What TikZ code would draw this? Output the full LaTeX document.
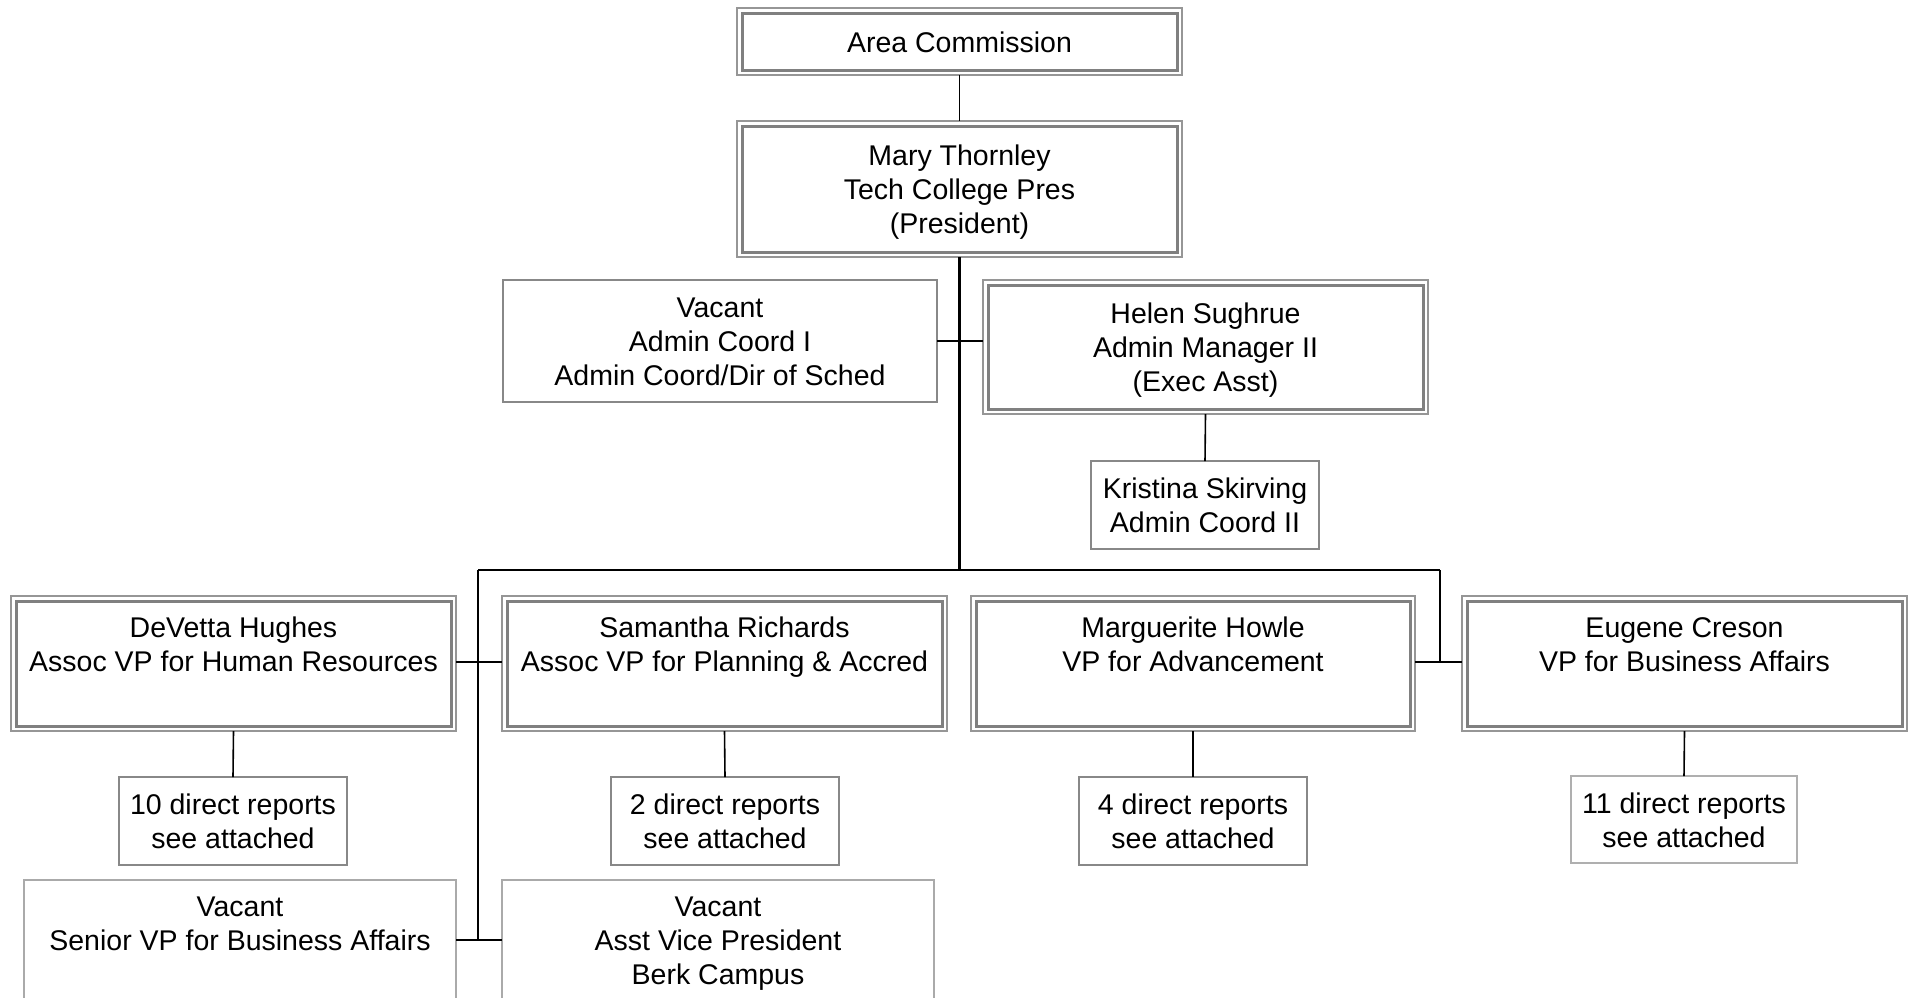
\documentclass[tikz,border=0pt]{standalone}
\usepackage{fontspec}
\setmainfont{Liberation Sans}
\newcommand{\toprule}{\rule{0pt}{31.5pt}}
\newcommand{\vprule}{\rule{0pt}{26.5pt}}
\begin{document}
\begin{tikzpicture}[x=1pt,y=-1pt,
  txt/.style={align=center, inner sep=0pt, outer sep=0pt,
    font=\fontsize{28.5}{34}\selectfont},
  sbox/.style={txt, draw={rgb,255:red,136;green,136;blue,136}, line width=1.8pt},
  dbox/.style={txt, draw={rgb,255:red,150;green,150;blue,150}, line width=1.3pt},
  innerline/.style={draw={rgb,255:red,128;green,128;blue,128}, line width=3pt},
  conn/.style={draw=black, line width=1.6pt},
  trunk/.style={draw=black, line width=2.6pt}]
\fill[white] (0,0) rectangle (1911,997);
\clip (0,0) rectangle (1911,997);

% top
\node[dbox, minimum width=445pt, minimum height=67pt] (area) at (959.5,41.5) {\toprule Area Commission\strut};
\node[dbox, minimum width=445pt, minimum height=136pt] (mary) at (959.5,189) {\toprule Mary Thornley\\Tech College Pres\\(President)\strut};
\node[sbox, minimum width=434pt, minimum height=122pt] (vacA) at (720,341) {\toprule Vacant\\Admin Coord I\\Admin Coord/Dir of Sched\strut};
\node[dbox, minimum width=445pt, minimum height=134pt] (helen) at (1205.5,347) {\toprule Helen Sughrue\\Admin Manager II\\(Exec Asst)\strut};
\node[sbox, minimum width=228pt, minimum height=88pt] (kris) at (1205,505) {\toprule Kristina Skirving\\Admin Coord II\strut};

% VP row
\node[dbox, minimum width=445pt, minimum height=135pt] (dev) at (233.5,663.5) {\vprule DeVetta Hughes\\Assoc VP for Human Resources\\\strut};
\node[dbox, minimum width=445pt, minimum height=135pt] (sam) at (724.5,663.5) {\vprule Samantha Richards\\Assoc VP for Planning \& Accred\\\strut};
\node[dbox, minimum width=444pt, minimum height=135pt] (mar) at (1193,663.5) {\vprule Marguerite Howle\\VP for Advancement\\\strut};
\node[dbox, minimum width=445pt, minimum height=135pt] (eug) at (1684.5,663.5) {\vprule Eugene Creson\\VP for Business Affairs\\\strut};

% direct reports
\node[sbox, minimum width=228pt, minimum height=88pt] (r10) at (233,821) {\toprule 10 direct reports\\see attached\strut};
\node[sbox, minimum width=228pt, minimum height=88pt] (r2) at (725,821) {\toprule 2 direct reports\\see attached\strut};
\node[sbox, minimum width=228pt, minimum height=88pt] (r4) at (1193,821) {\toprule 4 direct reports\\see attached\strut};
\node[sbox, minimum width=226pt, minimum height=87pt, draw={rgb,255:red,175;green,175;blue,175}] (r11) at (1684,819.5) {\toprule 11 direct reports\\see attached\strut};

% bottom vacant
\node[sbox, minimum width=432pt, minimum height=154pt, line width=1.3pt, draw={rgb,255:red,170;green,170;blue,170}] (vacS) at (240,957) {\toprule Vacant\\Senior VP for Business Affairs\\~\\\strut};
\node[sbox, minimum width=432pt, minimum height=154pt, line width=1.3pt, draw={rgb,255:red,170;green,170;blue,170}] (vacB) at (718,957) {\toprule Vacant\\Asst Vice President\\Berk Campus\\\strut};

% inner lines of double boxes
\foreach \n in {area,mary,helen,dev,sam,mar,eug}
  \draw[innerline] ([xshift=5pt,yshift=-5pt]\n.north west) rectangle ([xshift=-5pt,yshift=5pt]\n.south east);

% connector points
\coordinate (busL) at (478,570);
\coordinate (busR) at (1440,570);
\coordinate (bus) at (mary.south |- busL);
\coordinate (jA) at (959,341);
\coordinate (jV) at (478,662);
\coordinate (jS) at (478,940);
\coordinate (jM) at (1440,662);

% connectors
\draw[conn] (area.south) -- (mary.north);
\draw[trunk] (mary.south) -- (bus);
\draw[conn] (vacA.east |- jA) -- (helen.west |- jA);
\draw[conn] (helen.south) -- (kris.north);
\draw[conn] (busL) -- (busR);
\draw[conn] (busL) -- (jS);
\draw[conn] (busR) -- (jM);
\draw[conn] (dev.east |- jV) -- (sam.west |- jV);
\draw[conn] (mar.east |- jM) -- (eug.west |- jM);
\draw[conn] (vacS.east |- jS) -- (vacB.west |- jS);
\draw[conn] (dev.south) -- (r10.north);
\draw[conn] (sam.south) -- (r2.north);
\draw[conn] (mar.south) -- (r4.north);
\draw[conn] (eug.south) -- (r11.north);
\end{tikzpicture}
\end{document}
